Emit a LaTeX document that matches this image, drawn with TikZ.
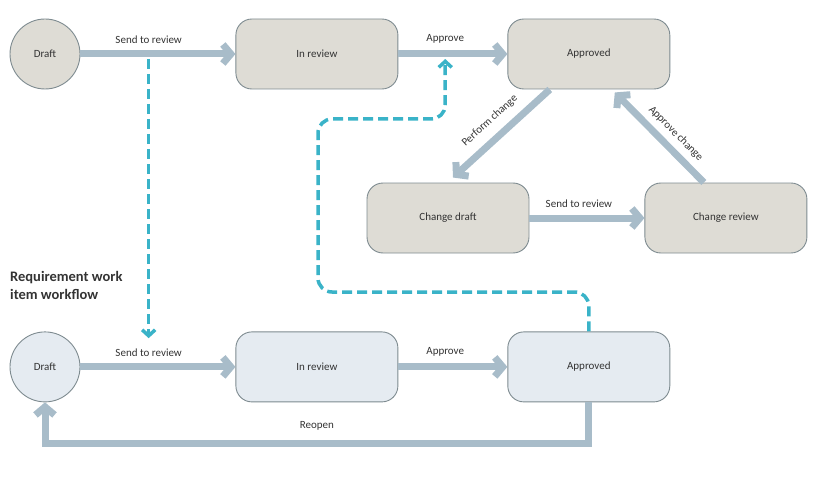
\documentclass[tikz,border=0pt]{standalone}
\usepackage{fontspec}
\setmainfont{Carlito}
\usetikzlibrary{arrows.meta,positioning}
\definecolor{inkgray}{HTML}{333333}
\definecolor{edgegray}{HTML}{7E8B90}
\definecolor{uppergray}{HTML}{DEDCD5}
\definecolor{lowerblue}{HTML}{E5EBF1}
\definecolor{flowblue}{HTML}{A8BCC9}
\definecolor{linkcyan}{HTML}{3AB3C8}

\begin{document}
\begin{tikzpicture}[x=1pt, y=-1pt,
      every node/.style = {text=inkgray},
      state/.style = {draw=edgegray, line width=0.9pt, align=center,
        font=\fontsize{11}{13}\selectfont},
      stbox/.style = {state, rectangle, rounded corners=16pt,
        minimum width=162pt, minimum height=70pt},
      stcirc/.style = {state, circle, minimum size=70pt, inner sep=0pt},
      upper/.style = {fill=uppergray},
      lower/.style = {fill=lowerblue},
      flow/.style = {draw=flowblue, line width=7pt,
        -{Straight Barb[length=8pt, width=19pt, line cap=butt, line join=miter]}},
      link/.style = {draw=linkcyan, line width=3.5pt, dash pattern=on 10pt off 5pt,
        rounded corners=14pt,
        -{Straight Barb[length=6pt, width=13pt, line cap=butt, line join=miter]}},
      lbl/.style = {font=\fontsize{11}{13}\selectfont, inner sep=2pt},
      title/.style = {font=\bfseries\fontsize{14.5}{18}\selectfont, align=left, inner sep=0pt}]
  \useasboundingbox (0,0) rectangle (819,484);

  \node[stcirc, upper] (draft1) at (45,54) {Draft};
  \node[stbox, upper, right=155pt of draft1] (review1) {In review};
  \node[stbox, upper, right=109pt of review1] (approved1) {Approved};
  \node[stbox, upper] (cdraft) at (448,218) {Change draft};
  \node[stbox, upper, right=115pt of cdraft] (creview) {Change review};

  \node[stcirc, lower, below=242pt of draft1] (draft2) {Draft};
  \node[stbox, lower, right=155pt of draft2] (review2) {In review};
  \node[stbox, lower, right=109pt of review2] (approved2) {Approved};

  \node[title, anchor=north west] (caption) at (10,271) {Requirement work\\item workflow};

  \draw[flow] (draft1) -- coordinate[pos=.44] (send1)
    node[lbl, above=5pt, pos=.44] {Send to review} (review1);
  \draw[flow] (review1) -- coordinate[pos=.43] (appr1)
    node[lbl, above=5pt, pos=.43] {Approve} (approved1);
  \draw[flow] ([xshift=-39pt]approved1.south) --
    node[lbl, sloped, above=7pt, pos=.5] {Perform change} ([xshift=5pt, yshift=5pt]cdraft.north);
  \draw[flow] ([xshift=-22pt]creview.north) --
    node[lbl, sloped, above=4pt, pos=.43] {Approve change} ([xshift=26pt, yshift=-3pt]approved1.south);
  \draw[flow] (cdraft) -- node[lbl, above=5pt, pos=.43] {Send to review} (creview);

  \draw[flow] (draft2) -- node[lbl, above=5pt, pos=.44] (send2) {Send to review} (review2);
  \draw[flow] (review2) -- node[lbl, above=5pt, pos=.43] {Approve} (approved2);
  \draw[flow] (approved2.south) -- ++(0,41) -| node[lbl, above=8pt, pos=.25] {Reopen} (draft2.south);

  \draw[link] ([yshift=-5pt]send1) -- ([yshift=5pt]send2.north);
  \draw[link] (approved2.north) |- (318,292) |- ([yshift=-65pt]appr1) -- ([yshift=-5pt]appr1);
\end{tikzpicture}
\end{document}
